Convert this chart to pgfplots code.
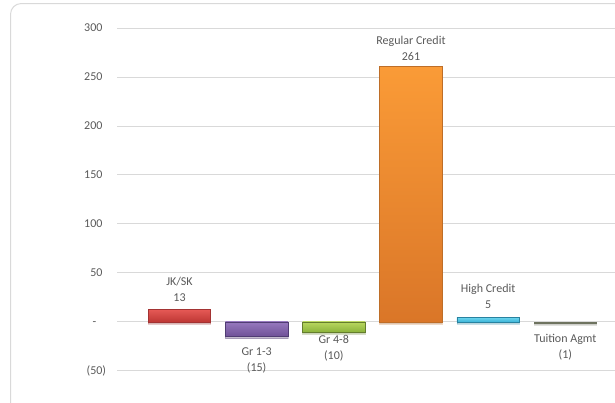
\documentclass[border=0pt]{standalone}
\usepackage{pgfplots}
\pgfplotsset{compat=1.18}
\usepackage{fontspec}
\setmainfont{Carlito}
\usetikzlibrary{shadows}
\definecolor{txt}{HTML}{595959}
\definecolor{gridc}{HTML}{D9D9D9}
\definecolor{frame}{HTML}{D9D9D9}
\begin{document}
\begin{tikzpicture}
\draw[frame, line width=0.75pt, rounded corners=8pt] (7.9pt,-8pt) rectangle (480pt,299.6pt);
\begin{axis}[
  at={(87.75pt,24pt)}, anchor=south west, scale only axis,
  width=373.5pt, height=257.25pt,
  xmin=0.19, xmax=6.644, ymin=-50, ymax=300,
  axis line style={draw=none},
  xtick=\empty,
  ytick={-50,0,50,100,150,200,250,300},
  yticklabels={(50),-\phantom{0)},50\phantom{)},100\phantom{)},150\phantom{)},200\phantom{)},250\phantom{)},300\phantom{)}},
  tick style={draw=none},
  yticklabel style={font=\fontsize{9}{11}\selectfont, text=txt, anchor=east, inner sep=0pt, xshift=-8pt},
  ymajorgrids, major grid style={gridc, line width=0.75pt},
  ybar, bar width=0.81, bar shift=0pt,
  clip=false,
  every node near coord/.append style={font=\fontsize{9}{12}\selectfont, text=txt, align=center},
]
\addplot[draw=red!55!black!80, top color={rgb,255:red,230;green,90;blue,86}, bottom color={rgb,255:red,190;green,55;blue,52},
  drop shadow={shadow xshift=0pt, shadow yshift=-1.5pt, opacity=0.25},
  nodes near coords={JK/SK\\13}, every node near coord/.append style={yshift=2pt}]
  coordinates {(1,13)};
\addplot[draw={rgb,255:red,80;green,60;blue,115}, top color={rgb,255:red,150;green,120;blue,190}, bottom color={rgb,255:red,110;green,80;blue,150},
  drop shadow={shadow xshift=0pt, shadow yshift=-1.5pt, opacity=0.25},
  nodes near coords={Gr 1-3\\(15)}, every node near coord/.append style={yshift=-4.5pt}]
  coordinates {(2,-15)};
\addplot[draw={rgb,255:red,100;green,125;blue,45}, top color={rgb,255:red,185;green,215;blue,95}, bottom color={rgb,255:red,140;green,180;blue,60},
  drop shadow={shadow xshift=0pt, shadow yshift=-1.5pt, opacity=0.25},
  nodes near coords={Gr 4-8\\(10)}, every node near coord/.append style={yshift=1pt}]
  coordinates {(3,-10)};
\addplot[draw={rgb,255:red,190;green,110;blue,40}, top color={rgb,255:red,250;green,155;blue,55}, bottom color={rgb,255:red,218;green,118;blue,40},
  drop shadow={shadow xshift=0pt, shadow yshift=-1.5pt, opacity=0.25},
  nodes near coords={Regular Credit\\261}, every node near coord/.append style={yshift=0.5pt}]
  coordinates {(4,261)};
\addplot[draw={rgb,255:red,40;green,130;blue,160}, top color={rgb,255:red,110;green,215;blue,240}, bottom color={rgb,255:red,60;green,180;blue,215},
  drop shadow={shadow xshift=0pt, shadow yshift=-1.5pt, opacity=0.25},
  nodes near coords={High Credit\\5}, every node near coord/.append style={yshift=2.5pt}]
  coordinates {(5,5)};
\addplot[draw={rgb,255:red,110;green,115;blue,95}, fill={rgb,255:red,125;green,130;blue,110},
  drop shadow={shadow xshift=0pt, shadow yshift=-1.5pt, opacity=0.2},
  nodes near coords={Tuition Agmt\\(1)}, every node near coord/.append style={yshift=-5pt}]
  coordinates {(6,-1)};
\end{axis}
\pgfresetboundingbox
\useasboundingbox (0,0) rectangle (461.25pt,302.25pt);
\end{tikzpicture}
\end{document}
